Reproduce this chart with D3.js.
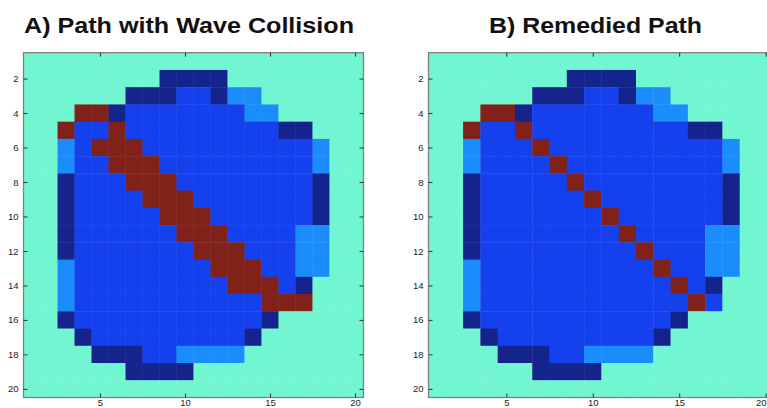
<!DOCTYPE html>
<html>
<head>
<meta charset="utf-8">
<script src="https://cdn.jsdelivr.net/npm/d3@7"></script>
<style>
  html, body { margin: 0; padding: 0; background: #fff; }
  svg { display: block; }
</style>
</head>
<body>
<svg id="chart" width="767" height="408"></svg>
<script>
// ---- data ----
// cell codes: 0 = background, 1 = wall (dark), 2 = interior, 3 = light, 9 = path
const rowsIdx = d3.range(1, 21);
const colsIdx = d3.range(1, 21);
const xTickValues = [5, 10, 15, 20];
const yTickValues = [2, 4, 6, 8, 10, 12, 14, 16, 18, 20];
const titles = ["A) Path with Wave Collision", "B) Remedied Path"];

const gridA = [
  "00000000000000000000",
  "00000000111100000000",
  "00000011122133000000",
  "00099122222223300000",
  "00922922222222211000",
  "00329992222222222300",
  "00322999222222222300",
  "00122299922222222100",
  "00122229992222222100",
  "00122222999222222100",
  "00122222299922223300",
  "00122222229992223300",
  "00322222222999223300",
  "00322222222299921000",
  "00322222222222999000",
  "00122222222222100000",
  "00012222222221000000",
  "00001112233330000000",
  "00000011110000000000",
  "00000000000000000000"
];

const gridB = [
  "00000000000000000000",
  "00000000111100000000",
  "00000011122133000000",
  "00099122222223300000",
  "00922922222222211000",
  "00322292222222222300",
  "00322229222222222300",
  "00122222922222222100",
  "00122222292222222100",
  "00122222229222222100",
  "00122222222922223300",
  "00122222222292223300",
  "00322222222229223300",
  "00322222222222921000",
  "00322222222222292000",
  "00122222222222100000",
  "00012222222221000000",
  "00001112233330000000",
  "00000011110000000000",
  "00000000000000000000"
];

// ---- drawing ----
const W = 767;
const svg = d3.select("#chart");
const color = d3.scaleOrdinal()
  .domain(["0", "1", "2", "3", "9"])
  .range(["#72F5D1", "#15238C", "#1440EE", "#1B8CFB", "#80211A"]);

const panels = [
  { grid: gridA, title: titles[0], x0: 23.5, x1: 363.5, tx: 24, tw: 330 },
  { grid: gridB, title: titles[1], x0: 428.5, x1: 774.3, tx: 489, tw: 213 }
];
const y0 = 52.7, y1 = 397.5;

panels.forEach(p => {
  const g = svg.append("g");
  const xb = d3.scaleBand().domain(colsIdx).range([p.x0, p.x1]).padding(0);
  const yb = d3.scaleBand().domain(rowsIdx).range([y0, y1]).padding(0);
  const xl = d3.scaleLinear().domain([0.5, 20.5]).range([p.x0, p.x1]);
  const yl = d3.scaleLinear().domain([0.5, 20.5]).range([y0, y1]);

  const cells = [];
  p.grid.forEach((row, ri) => {
    row.split("").forEach((c, ci) => cells.push({ r: rowsIdx[ri], c: colsIdx[ci], v: c }));
  });

  g.append("g").selectAll("rect").data(cells).join("rect")
    .attr("x", d => xb(d.c))
    .attr("y", d => yb(d.r))
    .attr("width", xb.bandwidth() + 0.4)
    .attr("height", yb.bandwidth() + 0.4)
    .attr("fill", d => color(d.v));

  // frame
  g.append("rect")
    .attr("x", p.x0).attr("y", y0)
    .attr("width", p.x1 - p.x0).attr("height", y1 - y0)
    .attr("fill", "none").attr("stroke", "#808080").attr("stroke-width", 1.3);

  const styleAxis = (sel, showLabels) => {
    sel.select(".domain").remove();
    sel.selectAll(".tick line").attr("stroke", "#333").attr("stroke-width", 1);
    sel.selectAll(".tick text")
      .attr("fill", "#222")
      .style("font-family", "Liberation Sans, Arial, sans-serif")
      .style("font-size", "9.5px");
    if (!showLabels) sel.selectAll(".tick text").remove();
  };

  g.append("g").attr("transform", `translate(0,${y1})`)
    .call(d3.axisBottom(xl).tickValues(xTickValues).tickSize(-4).tickPadding(1.5))
    .call(s => styleAxis(s, true))
    .call(s => s.selectAll(".tick text")
      .filter(d => xl(d) + 6 > W)
      .attr("text-anchor", "end")
      .attr("x", d => W - 1 - xl(d)));
  g.append("g").attr("transform", `translate(0,${y0})`)
    .call(d3.axisTop(xl).tickValues(xTickValues).tickSize(-4))
    .call(s => styleAxis(s, false));
  g.append("g").attr("transform", `translate(${p.x0},0)`)
    .call(d3.axisLeft(yl).tickValues(yTickValues).tickSize(-4).tickPadding(5))
    .call(s => styleAxis(s, true));
  g.append("g").attr("transform", `translate(${p.x1},0)`)
    .call(d3.axisRight(yl).tickValues(yTickValues).tickSize(-4))
    .call(s => styleAxis(s, false));

  g.append("text")
    .attr("x", p.tx).attr("y", 33)
    .attr("textLength", p.tw).attr("lengthAdjust", "spacingAndGlyphs")
    .style("font-family", "Liberation Sans, Arial, sans-serif")
    .style("font-weight", "bold")
    .style("font-size", "22.5px")
    .attr("fill", "#111")
    .text(p.title);
});
</script>
</body>
</html>
